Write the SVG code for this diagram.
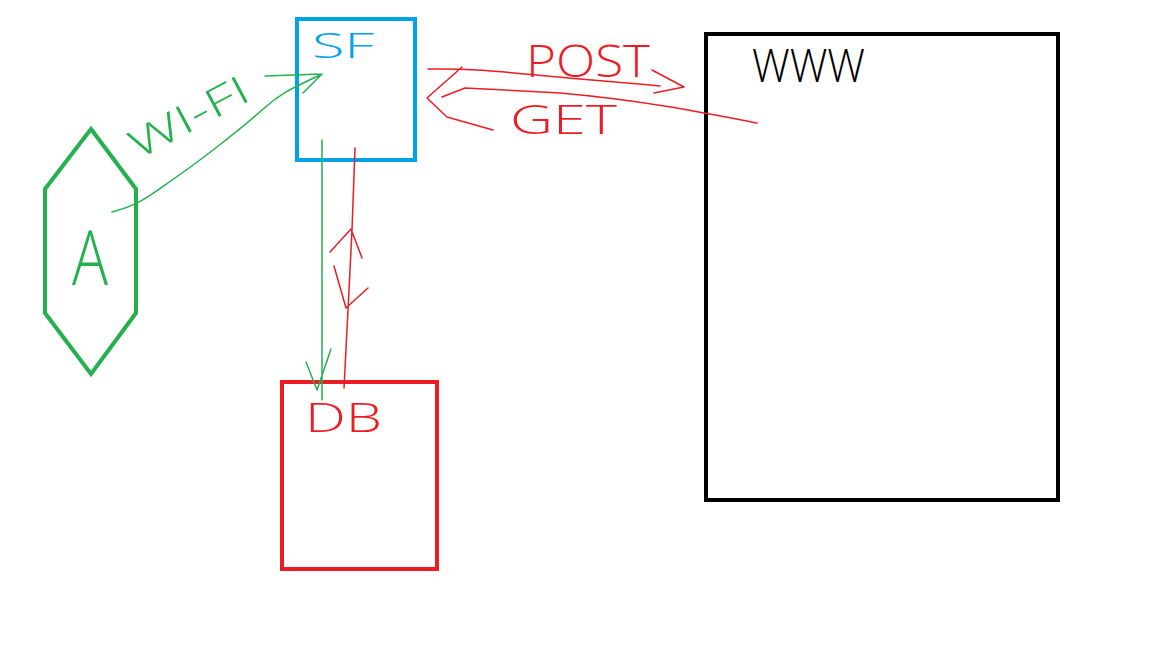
<svg xmlns="http://www.w3.org/2000/svg" width="1152" height="648" viewBox="0 0 1152 648">
<style>
.t{font-family:"Open Sans","Liberation Sans",Arial,sans-serif;font-weight:300}
.g{stroke:#22b14c}
.r{stroke:#ed1c24}
.c{fill:none;stroke-width:1.5;stroke-linecap:round;stroke-linejoin:round}
</style>
<rect width="1152" height="648" fill="#ffffff"/>
<g id="node-A">
<polygon points="91,129 136,189 136,313 91,374 45,313 45,189" fill="none" stroke="#22b14c" stroke-width="4"/>
<text class="t" x="72" y="285" font-size="76" fill="#22b14c" textLength="36" lengthAdjust="spacingAndGlyphs">A</text>
</g>
<g id="node-SF">
<rect x="297" y="19" width="118" height="141" fill="none" stroke="#00a2e8" stroke-width="4"/>
<text class="t" x="312" y="58" font-size="35" fill="#00a2e8" textLength="62" lengthAdjust="spacingAndGlyphs">SF</text>
</g>
<g id="node-DB">
<rect x="282" y="382" width="155" height="187" fill="none" stroke="#ed1c24" stroke-width="4"/>
<text class="t" x="305" y="432" font-size="40" fill="#ed1c24" textLength="77" lengthAdjust="spacingAndGlyphs">DB</text>
</g>
<g id="node-WWW">
<rect x="706" y="34" width="352" height="466" fill="none" stroke="#000000" stroke-width="4"/>
<text class="t" x="752" y="82" font-size="46" fill="#000000" textLength="113" lengthAdjust="spacingAndGlyphs">WWW</text>
</g>
<g id="connectors">
<path class="c g" d="M112,212 C140,205 152,194 175,178 S240,130 262,110 S300,85 322,74 M265,76 L322,74 M303,93 L322,74"/>
<path class="c g" d="M322,140 L322,400 M306,362 L317,390 L331,349"/>
<path class="c r" d="M355,148 L352,230 L348,310 L344,388 M330,252 L351,229 L362,258 M334,266 L346,308 L368,288"/>
<path class="c r" d="M428,69 C480,68 520,74 580,79 S640,84 660,86 M652,70 L684,87 L654,93"/>
<path class="c r" d="M757,123 C700,112 640,100 560,93 L465,88 L442,97 M462,67 L427,98 L447,117 L493,130"/>
</g>
<g id="labels">
<text class="t" transform="translate(138,160) rotate(-28)" font-size="40" fill="#22b14c" textLength="130" lengthAdjust="spacingAndGlyphs">WI-FI</text>
<text class="t" x="526" y="77" font-size="44" fill="#ed1c24" textLength="124" lengthAdjust="spacingAndGlyphs">POST</text>
<text class="t" x="510" y="134" font-size="40" fill="#ed1c24" textLength="107" lengthAdjust="spacingAndGlyphs">GET</text>
</g>
</svg>
